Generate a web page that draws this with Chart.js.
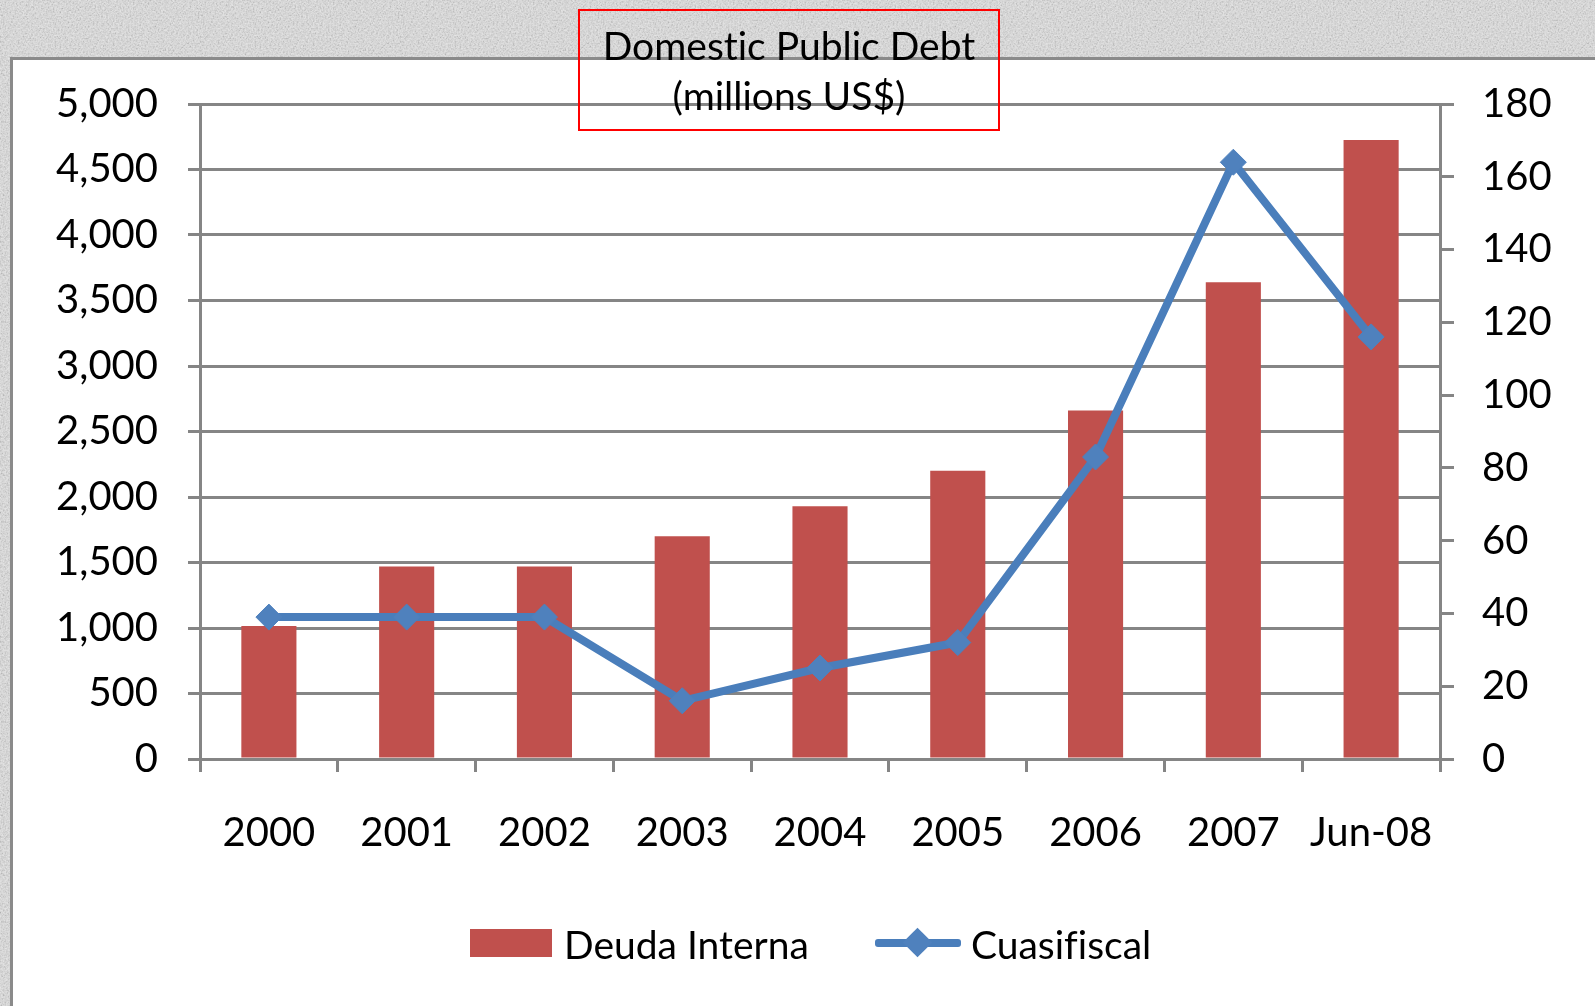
<!DOCTYPE html>
<html>
<head>
<meta charset="utf-8">
<script src="https://cdn.jsdelivr.net/npm/chart.js@4.4.1/dist/chart.umd.min.js"></script>
<style>
  html, body { margin: 0; padding: 0; }
  body {
    width: 1595px; height: 1006px; overflow: hidden; position: relative;
    background-color: #dcdcdc;
    background-image: url("data:image/svg+xml;utf8,<svg xmlns='http://www.w3.org/2000/svg' width='200' height='200'><filter id='n'><feTurbulence type='fractalNoise' baseFrequency='0.6' numOctaves='3'/><feColorMatrix type='saturate' values='0'/><feComponentTransfer><feFuncA type='linear' slope='0.8'/></feComponentTransfer></filter><rect width='200' height='200' fill='%23e6e6e6'/><rect width='200' height='200' filter='url(%23n)'/></svg>");
    font-family: Lato, "Open Sans", sans-serif;
    font-variant-ligatures: none;
  }
  #panel {
    position: absolute; left: 10px; top: 57px; width: 1600px; height: 1000px;
    background: #fff; border-left: 3px solid #8a8a8a; border-top: 3px solid #8a8a8a;
  }
  #chartWrap { position: absolute; left: 0; top: 0; width: 1595px; height: 1006px; }
  #titleBox {
    position: absolute; left: 578px; top: 9px; width: 422px; height: 122px;
    box-sizing: border-box; border: 2px solid #ff0000; text-align: center;
    font-size: 39px; line-height: 50px; padding-top: 9px; color: #000;
  }
  .legend { position: absolute; font-size: 39px; color: #000; line-height: 40px; }
  #legBar { position: absolute; left: 470px; top: 929px; width: 82px; height: 28px; background: #C0504D; }
  #legLine { position: absolute; left: 875px; top: 939px; width: 86px; height: 8px; background: #4A7EBB; border-radius: 3px; }
  #legDiamond { position: absolute; left: 907px; top: 932px; width: 21px; height: 21px; background: #4F81BD; transform: rotate(45deg); }
</style>
</head>
<body>
<div id="panel"></div>
<div id="chartWrap"><canvas id="debtChart" width="1595" height="1006"></canvas></div>
<div id="titleBox">Domestic Public Debt<br>(millions US$)</div>
<div id="legBar"></div>
<div class="legend" style="left:564px; top:924px;">Deuda Interna</div>
<div id="legLine"></div>
<div id="legDiamond"></div>
<div class="legend" style="left:971px; top:924px;">Cuasifiscal</div>

<script>
const categories = ["2000", "2001", "2002", "2003", "2004", "2005", "2006", "2007", "Jun-08"];
const deudaInterna = [1015, 1470, 1470, 1700, 1930, 2200, 2660, 3640, 4725];
const cuasifiscal = [39, 39, 39, 16, 25, 32, 83, 164, 116];

const gridGray = "#858585";
const tickFont = { family: "Lato, 'Open Sans', sans-serif", size: 40 };

function drawChart() {
  const ctx = document.getElementById("debtChart").getContext("2d");
  new Chart(ctx, {
    type: "bar",
    data: {
      labels: categories,
      datasets: [
        {
          type: "line",
          label: "Cuasifiscal",
          data: cuasifiscal,
          yAxisID: "y1",
          borderColor: "#4A7EBB",
          borderWidth: 8,
          pointStyle: "rectRot",
          pointRadius: 13,
          pointBackgroundColor: "#4F81BD",
          pointBorderColor: "#4F81BD",
          pointBorderWidth: 1,
          tension: 0,
          order: 0,
        },
        {
          label: "Deuda Interna",
          data: deudaInterna,
          yAxisID: "y",
          backgroundColor: "#C0504D",
          barPercentage: 0.4,
          categoryPercentage: 1,
          order: 1,
        },
      ],
    },
    options: {
      responsive: false,
      animation: false,
      layout: { padding: { top: 104, bottom: 0, left: 0, right: 0 } },
      plugins: { legend: { display: false }, title: { display: false }, tooltip: { enabled: false } },
      scales: {
        x: {
          offset: true,
          grid: { offset: true, drawOnChartArea: false, drawTicks: true, tickLength: 13, color: gridGray, lineWidth: 3 },
          border: { color: gridGray, width: 3 },
          ticks: { color: "#000", font: tickFont, padding: 37, maxRotation: 0 },
          afterFit: (scale) => { scale.height = 1006 - 759; },
        },
        y: {
          position: "left",
          min: 0,
          max: 5000,
          ticks: { stepSize: 500, color: "#000", font: tickFont, padding: 30, callback: (v) => v.toLocaleString("en-US") },
          grid: { color: gridGray, lineWidth: 3, tickLength: 12 },
          border: { color: gridGray, width: 3 },
          afterFit: (scale) => { scale.width = 200; },
        },
        y1: {
          position: "right",
          min: 0,
          max: 180,
          ticks: { stepSize: 20, color: "#000", font: tickFont, padding: 28 },
          grid: { drawOnChartArea: false, color: gridGray, lineWidth: 3, tickLength: 14 },
          border: { color: gridGray, width: 3 },
          afterFit: (scale) => { scale.width = 1595 - 1440; },
        },
      },
    },
  });
}

drawChart();
</script>
</body>
</html>
